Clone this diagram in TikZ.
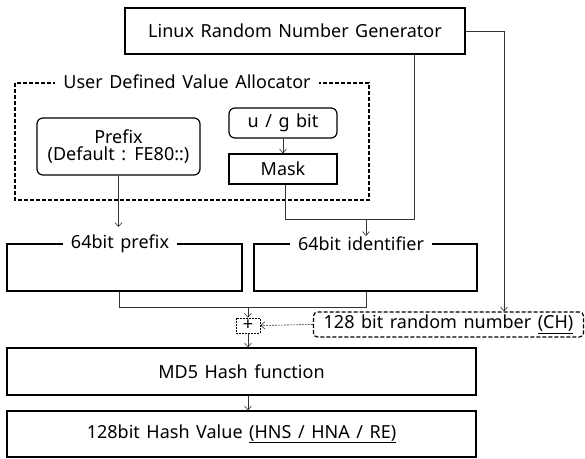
\documentclass[tikz,border=0pt]{standalone}
\usepackage{fontspec}
\setmainfont{Noto Sans}[WordSpace=1.4]
\usetikzlibrary{arrows.meta}
\begin{document}
\begin{tikzpicture}[x=1pt,y=-1pt,
  font=\fontsize{18}{20}\selectfont,
  box/.style={draw,line width=1.2pt,inner sep=0pt},
  rbox/.style={box,rounded corners=6pt},
  tag/.style={fill=white,inner xsep=8pt,inner ysep=3pt},
  link/.style={draw,line width=0.6pt,black!80},
  arr/.style={link,-{Straight Barb[length=4pt,width=7pt]}},
  framedash/.style={line width=1.2pt,dash pattern=on 4pt off 2pt},
]
\useasboundingbox (0,0) rectangle (585,458);

% random number source
\node[box,minimum width=340pt,minimum height=46pt] (lrng) at (295,31) {Linux Random Number Generator};

% user defined value allocator frame
\draw[framedash] (15,83) rectangle (369,200);
\node[tag] (uda) at (187,82) {User Defined Value Allocator};
\node[rbox,minimum width=163pt,minimum height=57pt,align=center] (prefix) at (118.5,146.5)
  {Prefix\\[-3pt](Default : FE80::)};
\node[rbox,minimum width=108pt,minimum height=30pt] (ug) at (283,123) {u / g bit};
\node[box,minimum width=108pt,minimum height=30pt] (mask) at (283,169) {Mask};

% 64 bit halves
\node[box,minimum width=235pt,minimum height=47pt] (pfx) at (124.5,267.5) {};
\node[tag] (pfxl) at (120,244) {64bit prefix};
\node[box,minimum width=223pt,minimum height=47pt] (iid) at (365.5,267.5) {};
\node[tag] (iidl) at (361,244) {64bit identifier};

% combining, hashing and result
\node[draw,line width=0.6pt,dash pattern=on 2pt off 1pt,minimum width=24pt,minimum height=15pt,inner sep=0pt,font=\fontsize{18}{18}\selectfont] (plus) at (248,325.5) {+};
\node[draw,framedash,rounded corners=4pt,minimum width=270pt,minimum height=25pt,inner sep=0pt] (ch) at (448.5,324.5) {128 bit random number \underline{(CH)}};
\node[box,minimum width=469pt,minimum height=47pt] (md5) at (241.5,371.5) {MD5 Hash function};
\node[box,minimum width=469pt,minimum height=46pt] (hash) at (241.5,434) {128bit Hash Value \underline{(HNS / HNA / RE)}};

% connectors
\coordinate (j1) at (285,219);
\coordinate (j2) at (414,219);
\coordinate (j3) at (366,219);
\coordinate (j4) at (119,307);
\coordinate (j5) at (366,307);
\coordinate (j6) at (248,307);
\coordinate (j7) at (504,31);
\draw[arr] (ug) -- (mask);
\draw[arr] (prefix.south) -- (118.5,227);
\draw[link] (mask.south -| j1) -- (j1) -- (j2) -- (lrng.south -| j2);
\draw[arr] (j3) -- (366,236);
\draw[link] (pfx.south -| j4) -- (j4) -- (j5) -- (iid.south -| j5);
\draw[arr] (j6) -- (plus.north);
\draw[arr] (plus) -- (md5.north -| plus);
\draw[arr] (lrng.east) -- (j7) -- (ch.north -| j7);
\draw[arr,dash pattern=on 2pt off 1pt] (ch.west) -- (plus.east);
\draw[arr] (md5.south -| plus) -- (hash.north -| plus);
\end{tikzpicture}
\end{document}
